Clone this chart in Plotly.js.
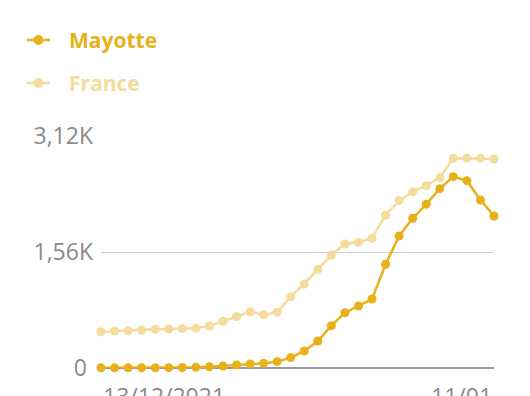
<!DOCTYPE html>
<html>
<head>
<meta charset="utf-8">
<script src="https://cdn.plot.ly/plotly-3.0.1.min.js"></script>
<style>html,body{margin:0;padding:0;background:#fff;}#chart{width:530px;height:396px;}</style>
</head>
<body>
<div id="chart"></div>
<script>
const dates = ['2021-12-13','2021-12-14','2021-12-15','2021-12-16','2021-12-17','2021-12-18','2021-12-19','2021-12-20','2021-12-21','2021-12-22','2021-12-23','2021-12-24','2021-12-25','2021-12-26','2021-12-27','2021-12-28','2021-12-29','2021-12-30','2021-12-31','2022-01-01','2022-01-02','2022-01-03','2022-01-04','2022-01-05','2022-01-06','2022-01-07','2022-01-08','2022-01-09','2022-01-10','2022-01-11'];
const mayotte = [2,2,2,3,4,5,6,9,17,27,40,54,63,85,140,229,363,569,744,834,928,1395,1775,2013,2202,2412,2573,2519,2260,2044];
const france = [488,498,502,511,520,525,529,534,565,628,690,757,717,749,959,1130,1327,1520,1668,1691,1744,2058,2250,2371,2452,2560,2820,2820,2820,2811];
const seriesNames = ['Mayotte','France'];
const yTickVals = [0,1560,3120];
const yTickText = ['0\u00a0','1,56K','3,12K'];
const xLabelDates = ['2021-12-13','2022-01-11'];
const xLabelText = ['13/12/2021','11/01'];

const colors = ['#E8B11A','#F3DC9C'];
const font = '"Open Sans", Roboto, sans-serif';
const L = 101, R = 36, T = 136, B = 28, W = 530 - L - R, H = 396 - T - B;
const px = v => (v - L) / W;          // pixel -> paper x
const py = v => (396 - B - v) / H;    // pixel -> paper y

const series = [mayotte, france];
const traces = series.map((s, i) => ({
  x: dates, y: s, type: 'scatter', mode: 'lines+markers', name: seriesNames[i],
  line: {color: colors[i], width: 2.5}, marker: {color: colors[i], size: 9}, cliponaxis: false
}));

const annotations = xLabelDates.map((d, i) => ({
  x: d, y: 0, xref: 'x', yref: 'y', text: xLabelText[i], showarrow: false,
  xanchor: i === 0 ? 'left' : 'right', yanchor: 'top', yshift: -10,
  font: {family: font, size: 23, color: '#8a8a8a'}
}));
const shapes = [];
const legendY = [40, 83];
seriesNames.forEach((n, i) => {
  const yc = legendY[i];
  annotations.push({xref: 'paper', yref: 'paper', x: px(67), y: py(yc), text: '<b>' + n + '</b>', showarrow: false,
    xanchor: 'left', yanchor: 'middle', font: {family: font, size: 21, color: colors[i]}});
  shapes.push({type: 'line', xref: 'paper', yref: 'paper', x0: px(27), x1: px(50), y0: py(yc), y1: py(yc),
    line: {color: colors[i], width: 2.5}});
  shapes.push({type: 'circle', xref: 'paper', yref: 'paper', x0: px(33.5), x1: px(43.5), y0: py(yc - 5), y1: py(yc + 5),
    fillcolor: colors[i], line: {width: 0}});
});

const layout = {
  width: 530, height: 396,
  margin: {l: L, r: R, t: T, b: B},
  paper_bgcolor: '#fff', plot_bgcolor: '#fff',
  showlegend: false,
  xaxis: {type: 'date', range: [dates[0], dates[dates.length-1]], showgrid: false, zeroline: false,
    showticklabels: false, ticks: '', showline: false, fixedrange: true, automargin: false},
  yaxis: {range: [0, 3120], tickvals: yTickVals, ticktext: yTickText, showgrid: true, gridcolor: '#cfcfcf', gridwidth: 1,
    zeroline: true, zerolinecolor: '#9a9a9a', zerolinewidth: 1.5, showline: false, ticks: '', automargin: false,
    tickfont: {family: font, size: 23, color: '#8a8a8a'}, ticklabelstandoff: 7, fixedrange: true},
  annotations: annotations,
  shapes: shapes
};

Plotly.newPlot('chart', traces, layout, {displayModeBar: false, staticPlot: true});
</script>
</body>
</html>
